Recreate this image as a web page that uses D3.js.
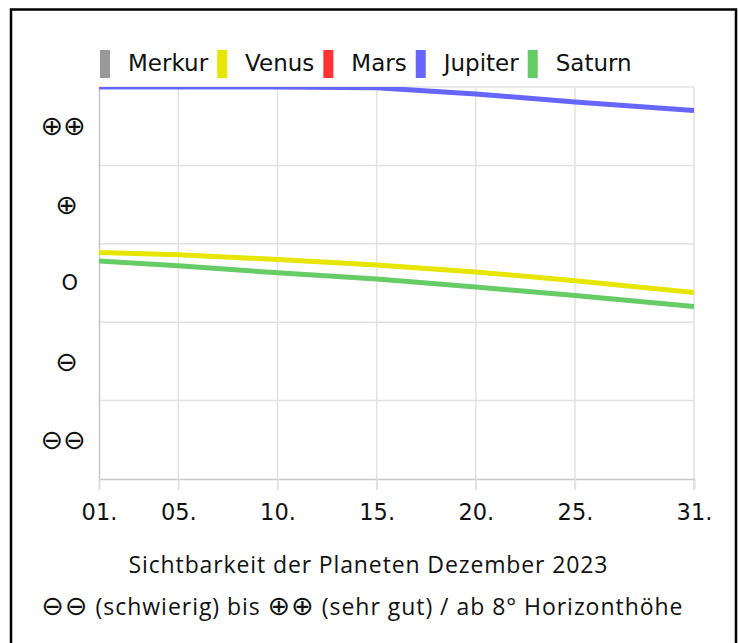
<!DOCTYPE html>
<html><head><meta charset="utf-8">
<script src="https://cdn.jsdelivr.net/npm/d3@7"></script>
<style>
html,body{margin:0;padding:0;background:#fff;}
svg{display:block;}
</style>
</head><body>
<svg id="chart" width="739" height="643"></svg>
<script>
// ---- data ----
const days = [1, 5, 10, 15, 20, 25, 31];
const xTickLabels = ["01.", "05.", "10.", "15.", "20.", "25.", "31."];
const yTickValues = [2, 1, 0, -1, -2];
const yTickLabels = ["\u2295\u2295", "\u2295", "O", "\u2296", "\u2296\u2296"];
const seriesNames = ["Merkur", "Venus", "Mars", "Jupiter", "Saturn"];
const seriesColors = ["#999999", "#e6e600", "#ff3333", "#6666ff", "#66cc66"];
const merkur  = [null, null, null, null, null, null, null];
const venus   = [0.39, 0.36, 0.30, 0.23, 0.14, 0.03, -0.12];
const mars    = [null, null, null, null, null, null, null];
const jupiter = [2.5, 2.5, 2.5, 2.49, 2.41, 2.31, 2.20];
const saturn  = [0.28, 0.22, 0.13, 0.05, -0.05, -0.16, -0.30];
const title1 = "Sichtbarkeit der Planeten Dezember 2023";
const title2Parts = ["\u2296\u2296", " (schwierig) bis ", "\u2295\u2295", " (sehr gut) / ab 8\u00b0 Horizonth\u00f6he"];

const seriesValues = [merkur, venus, mars, jupiter, saturn];

const svg = d3.select("#chart");
const W = 739, H = 643;
const m = {left: 99, right: 45, top: 87, bottom: 164};
const FONT = "DejaVu Sans, Verdana, sans-serif";

// frame
svg.append("rect").attr("x", 11).attr("y", 9.5).attr("width", 725).attr("height", 700)
  .attr("fill", "none").attr("stroke", "#000").attr("stroke-width", 2.5);

const x = d3.scaleLinear().domain([1, 31]).range([m.left, W - m.right]);
const y = d3.scaleLinear().domain([-2.5, 2.5]).range([H - m.bottom, m.top]);

// grid
const gridY = [-1.5, -0.5, 0.5, 1.5, 2.5];
svg.append("g").selectAll("line").data(gridY).join("line")
  .attr("x1", x(1)).attr("x2", x(31))
  .attr("y1", d => y(d)).attr("y2", d => y(d))
  .attr("stroke", "#e2e2e2").attr("stroke-width", 1.5);
svg.append("g").selectAll("line").data(days.slice(1)).join("line")
  .attr("x1", d => x(d)).attr("x2", d => x(d))
  .attr("y1", y(2.5)).attr("y2", y(-2.5) + 11)
  .attr("stroke", "#e2e2e2").attr("stroke-width", 1.5);

// x axis
const xAxis = d3.axisBottom(x).tickValues(days)
  .tickFormat((d, i) => xTickLabels[i]).tickSize(11).tickPadding(14);
const gx = svg.append("g").attr("transform", `translate(0,${y(-2.5)})`).call(xAxis);
gx.select(".domain").attr("stroke", "#c8c8c8").attr("stroke-width", 1.5);
gx.selectAll(".tick line").attr("stroke", "#e2e2e2").attr("stroke-width", 1.5);
gx.selectAll(".tick text").attr("font-family", FONT)
  .attr("font-size", 22.5).attr("fill", "#111");

// y axis
const yAxis = d3.axisLeft(y).tickValues(yTickValues)
  .tickFormat((d, i) => yTickLabels[i]).tickSize(0).tickPadding(13);
const gy = svg.append("g").attr("transform", `translate(${x(1)},0)`).call(yAxis);
gy.select(".domain").attr("stroke", "#c8c8c8").attr("stroke-width", 1.5);
gy.selectAll(".tick text").attr("font-family", FONT)
  .attr("fill", "#111")
  .attr("font-size", (d, i) => yTickLabels[i] === "O" ? 21 : 27)
  .attr("dx", (d, i) => yTickLabels[i].length === 1 ? -8 : 0);

// lines
svg.append("clipPath").attr("id", "clip").append("rect")
  .attr("x", x(1)).attr("y", y(2.5)).attr("width", x(31) - x(1)).attr("height", y(-2.5) - y(2.5));
const line = d3.line().defined(d => d[1] !== null).x(d => x(d[0])).y(d => y(d[1]));
const gl = svg.append("g").attr("clip-path", "url(#clip)");
const drawOrder = [0, 2, 4, 1, 3];
drawOrder.forEach(si => {
  const pts = days.map((d, i) => [d, seriesValues[si][i]]);
  gl.append("path").datum(pts).attr("d", line)
    .attr("fill", "none").attr("stroke", seriesColors[si]).attr("stroke-width", 5)
    .attr("stroke-linejoin", "round");
});

// legend
const lg = svg.append("g");
let lx = 100;
seriesNames.forEach((name, i) => {
  lg.append("rect").attr("x", lx).attr("y", 50).attr("width", 10).attr("height", 28)
    .attr("fill", seriesColors[i]);
  const t = lg.append("text").attr("x", lx + 28).attr("y", 71)
    .attr("font-family", FONT).attr("font-size", 23)
    .attr("fill", "#111").text(name);
  lx += 28 + t.node().getComputedTextLength() + 9;
});

// titles
svg.append("text").attr("x", 368).attr("y", 573).attr("text-anchor", "middle")
  .attr("font-family", "Open Sans, sans-serif").attr("font-size", 23).attr("fill", "#111")
  .attr("textLength", 479).attr("lengthAdjust", "spacing").text(title1);
const t2 = svg.append("text").attr("x", 362).attr("y", 615).attr("text-anchor", "middle")
  .attr("font-family", "Open Sans, sans-serif").attr("font-size", 23).attr("fill", "#111")
  .attr("textLength", 641).attr("lengthAdjust", "spacing")
  .attr("xml:space", "preserve");
title2Parts.forEach((p, i) => {
  const sym = i % 2 === 0;
  t2.append("tspan")
    .attr("font-family", sym ? FONT : "Open Sans, sans-serif")
    .attr("font-size", sym ? 27 : 23)
    .text(p);
});
</script>
</body></html>
